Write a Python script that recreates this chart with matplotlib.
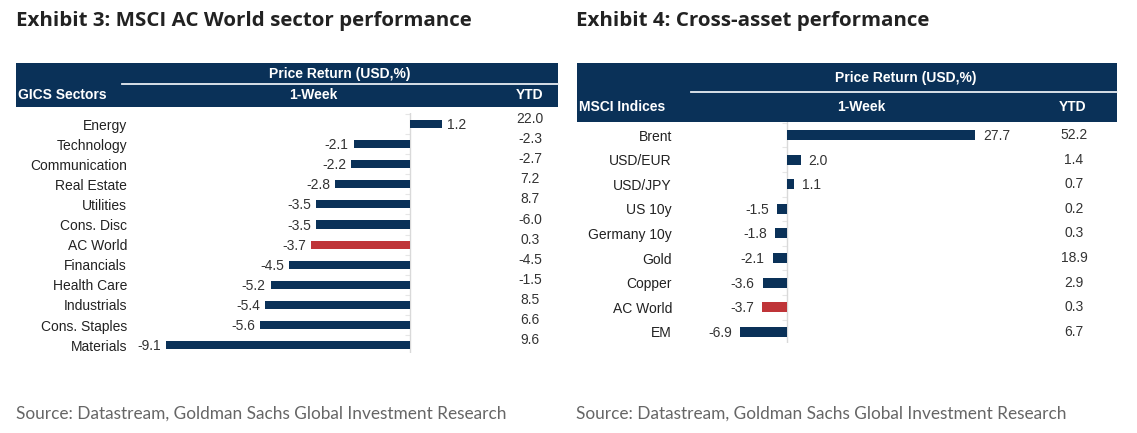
import matplotlib
matplotlib.use("Agg")
import matplotlib.pyplot as plt
from matplotlib.patches import Rectangle
from matplotlib.lines import Line2D
import matplotlib.transforms as mtransforms

W, H, DPI = 1137, 433, 100

# ---------------- data ----------------
sectors = ["Energy", "Technology", "Communication", "Real Estate", "Utilities",
           "Cons. Disc", "AC World", "Financials", "Health Care", "Industrials",
           "Cons. Staples", "Materials"]
sector_week = [1.2, -2.1, -2.2, -2.8, -3.5, -3.5, -3.7, -4.5, -5.2, -5.4, -5.6, -9.1]
sector_ytd = [22.0, -2.3, -2.7, 7.2, 8.7, -6.0, 0.3, -4.5, -1.5, 8.5, 6.6, 9.6]

assets = ["Brent", "USD/EUR", "USD/JPY", "US 10y", "Germany 10y", "Gold",
          "Copper", "AC World", "EM"]
asset_week = [27.7, 2.0, 1.1, -1.5, -1.8, -2.1, -3.6, -3.7, -6.9]
asset_ytd = [52.2, 1.4, 0.7, 0.2, 0.3, 18.9, 2.9, 0.3, 6.7]

highlight = "AC World"
titles = ["Exhibit 3: MSCI AC World sector performance",
          "Exhibit 4: Cross-asset performance"]
source_text = "Source: Datastream, Goldman Sachs Global Investment Research"
header_top = "Price Return (USD,%)"
header_first = ["GICS Sectors", "MSCI Indices"]
header_week = "1-Week"
header_ytd = "YTD"

# ---------------- style ----------------
NAVY = "#0a3158"
RED = "#bf3438"
TXT = "#222222"
BODY = ["Liberation Sans", "DejaVu Sans"]


def fx(px):
    return px / W


def fy(py):
    return 1 - py / H


fig = plt.figure(figsize=(W / DPI, H / DPI), dpi=DPI)
fig.patch.set_facecolor("white")

panels = [
    dict(cats=sectors, week=sector_week, ytd=sector_ytd,
         ax_x=(135, 500), ax_y=(113, 353), zero=410, scale=26.8,
         row0=124, step=20.1, label_right=127, ytd_x=530, ytd_dy=5, gap=5,
         box=(16, 558, 63, 107), line=(122, 84),
         top_xy=(340, 74), first_xy=(18, 95), week_xy=(313, 95), ytdh_xy=(530, 95),
         title_x=16, src_x=16),
    dict(cats=assets, week=asset_week, ytd=asset_ytd,
         ax_x=(680, 1040), ax_y=(122, 343), zero=787, scale=6.79,
         row0=135, step=24.6, label_right=672, ytd_x=1074, ytd_dy=0, gap=8,
         box=(577, 1117, 63, 122), line=(691, 92),
         top_xy=(906, 78), first_xy=(579, 107), week_xy=(861, 107), ytdh_xy=(1073, 107),
         title_x=576, src_x=576),
]

for k, p in enumerate(panels):
    x0, x1 = p["ax_x"]
    yt, yb = p["ax_y"]
    ax = fig.add_axes([fx(x0), fy(yb), (x1 - x0) / W, (yb - yt) / H])
    n = len(p["cats"])
    ax.set_xlim(-(p["zero"] - x0) / p["scale"], (x1 - p["zero"]) / p["scale"])
    ax.set_ylim((yb - p["row0"]) / p["step"], (yt - p["row0"]) / p["step"])
    for s in ax.spines.values():
        s.set_visible(False)
    ax.set_xticks([])
    ax.set_yticks(range(n))
    ax.set_yticklabels(p["cats"], fontsize=10, color=TXT, family=BODY)
    ax.tick_params(axis="y", length=0, pad=(x0 - p["label_right"]) * 0.72)

    colors = [RED if c == highlight else NAVY for c in p["cats"]]
    ax.barh(range(n), p["week"], height=0.4, color=colors, zorder=3)
    ax.axvline(0, color="#d9d9d9", lw=1, zorder=2)
    tick_w = 5 / p["scale"]
    ax.hlines([i + 0.5 for i in range(-1, n)], -tick_w, 0, color="#e6e6e6", lw=0.8, zorder=1)

    for i, v in enumerate(p["week"]):
        if v >= 0:
            ax.annotate(f"{v:.1f}", xy=(v, i), xytext=(p["gap"], -1),
                        textcoords="offset pixels", ha="left", va="center",
                        fontsize=10, color="#333333", family=BODY)
        else:
            ax.annotate(f"{v:.1f}", xy=(v, i), xytext=(-p["gap"], -1),
                        textcoords="offset pixels", ha="right", va="center",
                        fontsize=10, color="#333333", family=BODY)

    blend = mtransforms.blended_transform_factory(fig.transFigure, ax.transData)
    for i, v in enumerate(p["ytd"]):
        ax.annotate(f"{v:.1f}", xy=(fx(p["ytd_x"]), i), xycoords=blend,
                    xytext=(0, p["ytd_dy"]), textcoords="offset pixels",
                    ha="center", va="center", fontsize=10, color="#333333",
                    family=BODY, annotation_clip=False)

    # header box
    bx0, bx1, by0, by1 = p["box"]
    fig.add_artist(Rectangle((fx(bx0), fy(by1)), (bx1 - bx0) / W, (by1 - by0) / H,
                             transform=fig.transFigure, facecolor=NAVY,
                             edgecolor="none", zorder=1))
    lx, ly = p["line"]
    fig.add_artist(Line2D([fx(lx), fx(bx1)], [fy(ly), fy(ly)],
                          transform=fig.transFigure, color="#e8edf2", lw=1.3, zorder=2))
    hk = dict(color="white", fontsize=10, weight="bold", family=BODY, va="center", zorder=3)
    fig.text(fx(p["top_xy"][0]), fy(p["top_xy"][1]), header_top, ha="center", **hk)
    fig.text(fx(p["first_xy"][0]), fy(p["first_xy"][1]), header_first[k], ha="left", **hk)
    fig.text(fx(p["week_xy"][0]), fy(p["week_xy"][1]), header_week, ha="center", **hk)
    fig.text(fx(p["ytdh_xy"][0]), fy(p["ytdh_xy"][1]), header_ytd, ha="center", **hk)

# titles and sources, font size fitted to reference widths
title_objs = [fig.text(fx(p["title_x"]), fy(21), titles[k], ha="left", va="center",
                       fontsize=13, weight="bold", color="#222222",
                       family=["Open Sans", "DejaVu Sans"])
              for k, p in enumerate(panels)]
src_objs = [fig.text(fx(p["src_x"]), fy(414), source_text, ha="left", va="center",
                     fontsize=11, color="#666666", family=["Lato", "DejaVu Sans"],
                     weight="normal")
            for p in panels]

fig.canvas.draw()
r = fig.canvas.get_renderer()
tw = title_objs[0].get_window_extent(r).width
for t in title_objs:
    t.set_fontsize(13 * 451 / tw)
sw = src_objs[0].get_window_extent(r).width
for t in src_objs:
    t.set_fontsize(11 * 491 / sw)

fig.savefig("out.png", dpi=DPI, facecolor="white")
